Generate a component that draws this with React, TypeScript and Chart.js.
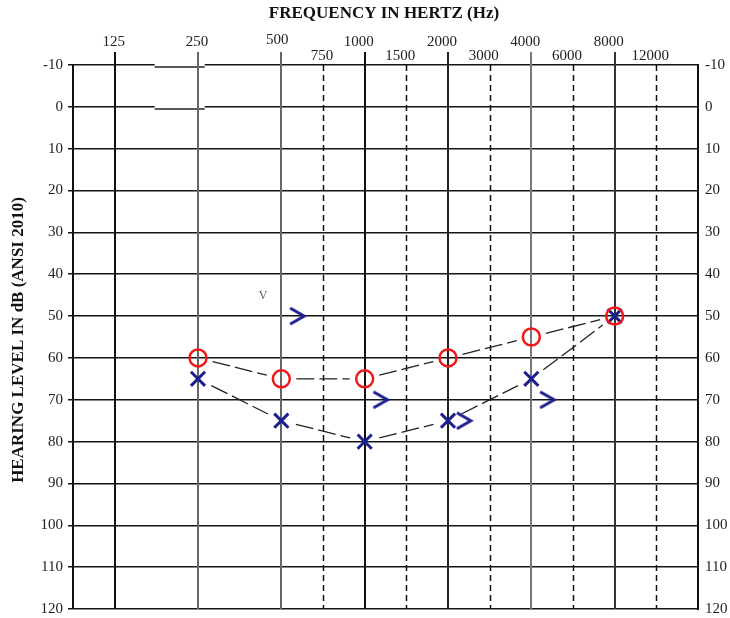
import { useEffect, useRef } from "react";
import { Chart, registerables } from "chart.js";
Chart.register(...registerables);

const octaveFreqs = [125, 250, 500, 1000, 2000, 4000, 8000];
const midFreqs = [750, 1500, 3000, 6000, 12000];
const airFreqs = [250, 500, 1000, 2000, 4000, 8000];
const rightEarAir = [60, 65, 65, 60, 55, 50];
const leftEarAir = [65, 75, 80, 75, 65, 50];
const boneFreqs = [500, 1000, 2000, 4000];
const leftBone = [50, 70, 75, 70];
const dbTicks = [-10, 0, 10, 20, 30, 40, 50, 60, 70, 80, 90, 100, 110, 120];
const octaveLineColors = ["#111", "#666", "#666", "#111", "#222", "#777", "#333"];

const SERIF = '"Liberation Serif", "Times New Roman", serif';
const NAVY = "#1c1f8e";
const RED = "#f01818";
const BONE_OFFSET = 0.19;

// audiogram position: octaves evenly spaced, inter-octaves at midpoints
function pos(f: number): number {
  const oct = Math.log2(f / 125);
  if (Math.abs(oct - Math.round(oct)) < 1e-6) return oct;
  return Math.log2(f / 1.5 / 125) + 0.5;
}

function makeBoneImage(): HTMLCanvasElement {
  const c = document.createElement("canvas");
  c.width = 20;
  c.height = 22;
  const g = c.getContext("2d")!;
  g.strokeStyle = NAVY;
  g.lineWidth = 3;
  g.lineJoin = "miter";
  g.beginPath();
  g.moveTo(3, 3);
  g.lineTo(17, 11);
  g.lineTo(3, 19);
  g.stroke();
  return c;
}

const audiogramPlugin = {
  id: "audiogram",
  beforeDatasetsDraw(chart: any) {
    const { ctx, chartArea, scales } = chart;
    const x = scales.x;
    const y = scales.y;
    ctx.save();
    // notch artifact on top lines
    const nx0 = x.getPixelForValue(0.48);
    const nx1 = x.getPixelForValue(1.08);
    [-10, 0].forEach((v) => {
      const py = Math.round(y.getPixelForValue(v));
      ctx.fillStyle = "#fff";
      ctx.fillRect(nx0, py - 1.5, nx1 - nx0, 3);
      ctx.strokeStyle = "#222";
      ctx.lineWidth = 1.5;
      ctx.beginPath();
      ctx.moveTo(nx0, py + 2);
      ctx.lineTo(nx1, py + 2);
      ctx.stroke();
    });
    // dashed inter-octave lines
    ctx.setLineDash([6, 4]);
    ctx.strokeStyle = "#111";
    ctx.lineWidth = 1.5;
    midFreqs.forEach((f) => {
      const px = Math.round(x.getPixelForValue(pos(f))) + 0.5;
      ctx.beginPath();
      ctx.moveTo(px, chartArea.top);
      ctx.lineTo(px, chartArea.bottom);
      ctx.stroke();
    });
    ctx.setLineDash([]);
    // octave lines
    octaveFreqs.forEach((f, i) => {
      const px = Math.round(x.getPixelForValue(pos(f)));
      ctx.strokeStyle = octaveLineColors[i];
      ctx.lineWidth = 2;
      ctx.beginPath();
      ctx.moveTo(px, chartArea.top - 13);
      ctx.lineTo(px, chartArea.bottom);
      ctx.stroke();
    });
    // connecting lines with gaps at markers
    [0, 1].forEach((di) => {
      const pts = chart.getDatasetMeta(di).data;
      ctx.strokeStyle = "#222";
      ctx.lineWidth = 1.3;
      ctx.setLineDash([18, 5]);
      for (let i = 0; i < pts.length - 1; i++) {
        const a = pts[i];
        const b = pts[i + 1];
        const dx = b.x - a.x;
        const dy = b.y - a.y;
        const len = Math.hypot(dx, dy);
        const gap = 15;
        if (len <= gap * 2) continue;
        const ux = dx / len;
        const uy = dy / len;
        ctx.beginPath();
        ctx.moveTo(a.x + ux * gap, a.y + uy * gap);
        ctx.lineTo(b.x - ux * gap, b.y - uy * gap);
        ctx.stroke();
      }
    });
    ctx.setLineDash([]);
    // "V" annotation
    ctx.fillStyle = "#555";
    ctx.font = `12px ${SERIF}`;
    ctx.textAlign = "center";
    ctx.textBaseline = "middle";
    ctx.fillText("V", x.getPixelForValue(1.78), y.getPixelForValue(45.2));
    ctx.restore();
  },
  afterDraw(chart: any) {
    const { ctx, scales } = chart;
    const x = scales.x;
    ctx.save();
    ctx.fillStyle = "#222";
    ctx.font = `15px ${SERIF}`;
    ctx.textAlign = "center";
    ctx.textBaseline = "middle";
    octaveFreqs.forEach((f) => {
      const s = String(f);
      const off = s.length >= 4 ? -6 : f === 500 ? -4 : -1;
      ctx.fillText(s, x.getPixelForValue(pos(f)) + off, f === 500 ? 40 : 42);
    });
    midFreqs.forEach((f) => {
      const s = String(f);
      const off = s.length >= 4 ? -6 : -1;
      ctx.fillText(s, x.getPixelForValue(pos(f)) + off, 56);
    });
    ctx.fillStyle = "#111";
    ctx.font = `bold 17px ${SERIF}`;
    ctx.fillText("FREQUENCY IN HERTZ (Hz)", 384, 14);
    ctx.translate(19, 340);
    ctx.rotate(-Math.PI / 2);
    ctx.fillText("HEARING LEVEL IN dB (ANSI 2010)", 0, 0);
    ctx.restore();
  },
};

export default function App() {
  const ref = useRef<HTMLCanvasElement>(null);
  useEffect(() => {
    const boneImg = makeBoneImage();
    const tickFont = { family: SERIF, size: 15, lineHeight: 1 };
    const chart = new Chart(ref.current!, {
      type: "line",
      data: {
        datasets: [
          {
            label: "Right ear air",
            data: airFreqs.map((f, i) => ({ x: pos(f), y: rightEarAir[i] })),
            showLine: false,
            pointStyle: "circle",
            pointRadius: 8.5,
            pointBorderWidth: 2.5,
            borderColor: RED,
            pointBorderColor: RED,
            pointBackgroundColor: "rgba(0,0,0,0)",
          },
          {
            label: "Left ear air",
            data: airFreqs.map((f, i) => ({ x: pos(f), y: leftEarAir[i] })),
            showLine: false,
            pointStyle: "crossRot",
            pointRadius: 10,
            pointBorderWidth: 3,
            borderColor: NAVY,
            pointBorderColor: NAVY,
          },
          {
            label: "Left ear bone",
            data: boneFreqs.map((f, i) => ({ x: pos(f) + BONE_OFFSET, y: leftBone[i] })),
            showLine: false,
            pointStyle: boneImg as any,
            pointRadius: 10,
          },
        ],
      },
      options: {
        animation: false,
        responsive: true,
        maintainAspectRatio: false,
        layout: { autoPadding: false, padding: { top: 0, left: 0, right: 0, bottom: 9 } },
        plugins: { legend: { display: false }, tooltip: { enabled: false } },
        events: [],
        scales: {
          x: {
            type: "linear",
            position: "top",
            min: -0.5,
            max: 7,
            grid: { display: false },
            border: { display: false },
            ticks: { display: false },
            afterFit: (s: any) => {
              s.height = 65;
              s.paddingLeft = 0;
              s.paddingRight = 0;
            },
          },
          y: {
            type: "linear",
            position: "left",
            reverse: true,
            min: -10,
            max: 120,
            afterBuildTicks: (s: any) => {
              s.ticks = dbTicks.map((v) => ({ value: v }));
            },
            ticks: { font: tickFont, color: "#222", padding: 5 },
            grid: { color: "#151515", lineWidth: 1.5, tickLength: 5, tickColor: "#151515" },
            border: { color: "#111", width: 2 },
            afterFit: (s: any) => {
              s.width = 73;
              s.paddingTop = 0;
              s.paddingBottom = 0;
            },
          },
          y2: {
            type: "linear",
            position: "right",
            reverse: true,
            min: -10,
            max: 120,
            afterBuildTicks: (s: any) => {
              s.ticks = dbTicks.map((v) => ({ value: v }));
            },
            ticks: { font: tickFont, color: "#222", padding: 7 },
            grid: { display: true, drawOnChartArea: false, drawTicks: false },
            border: { color: "#111", width: 2 },
            afterFit: (s: any) => {
              s.width = 32;
              s.paddingTop = 0;
              s.paddingBottom = 0;
            },
          },
        },
      },
      plugins: [audiogramPlugin],
    } as any);
    return () => chart.destroy();
  }, []);
  return (
    <div style={{ position: "fixed", left: 0, top: 0, width: 730, height: 618, background: "#fff" }}>
      <canvas ref={ref} />
    </div>
  );
}
